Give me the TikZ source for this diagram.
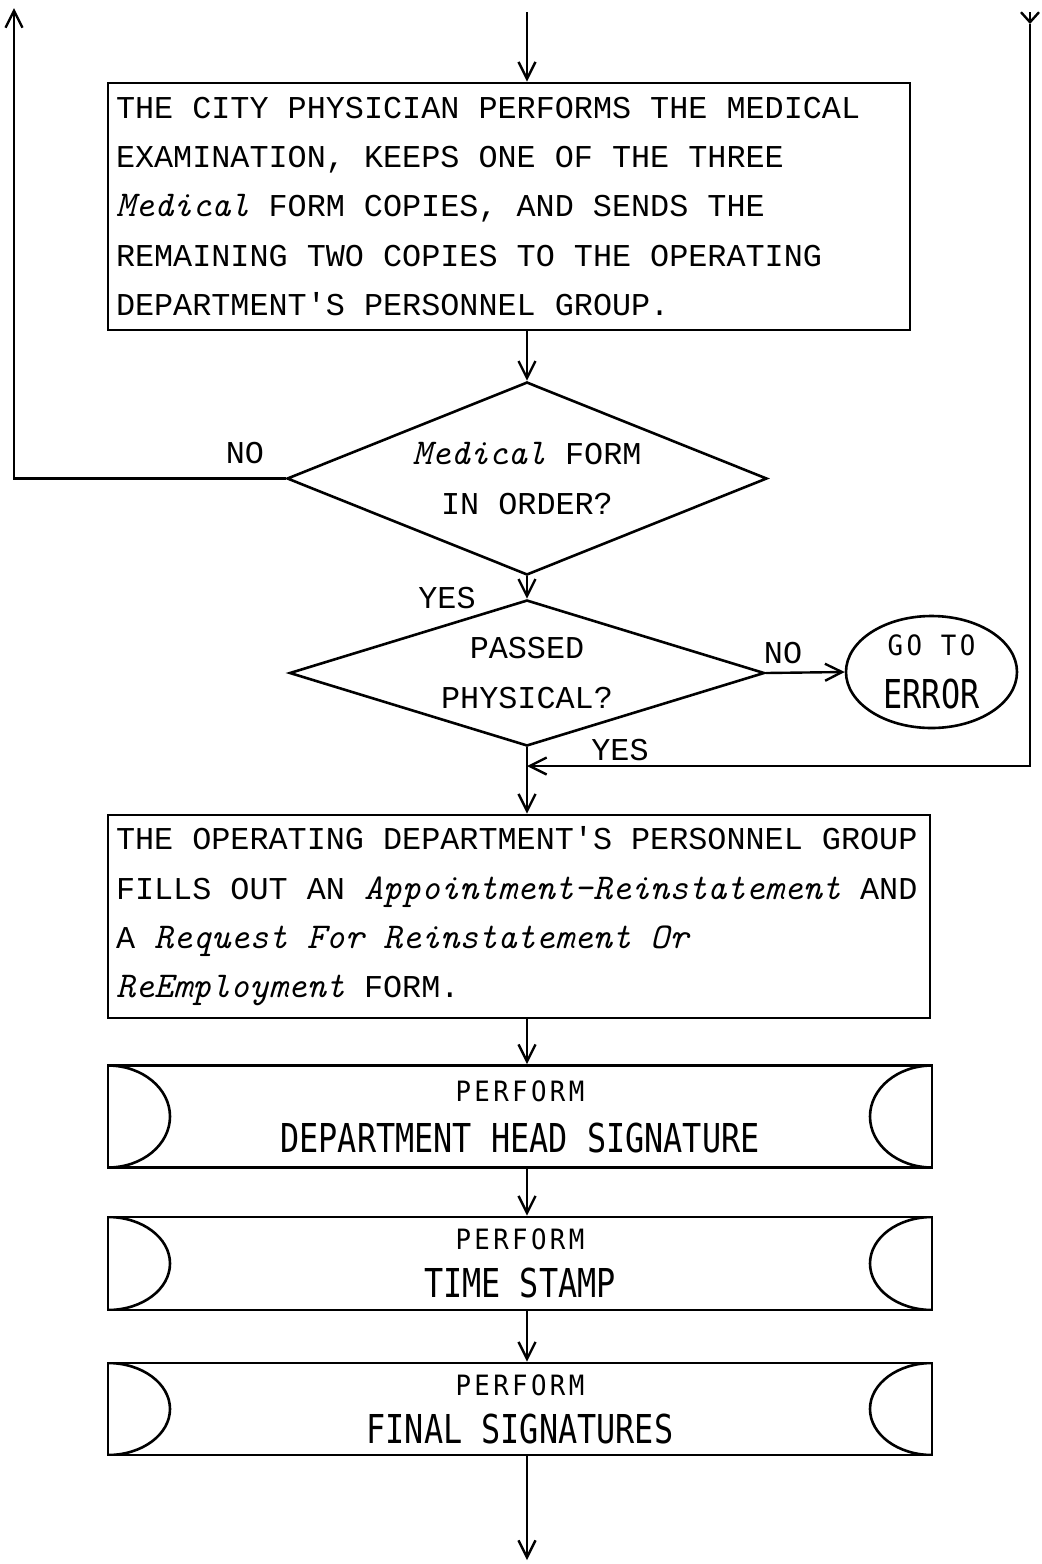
\documentclass[tikz,border=0pt]{standalone}
\usepackage{fontspec}
\usetikzlibrary{arrows.meta,shapes.geometric,calc}
% typewriter text and stencil lettering
\newfontfamily\typer{Liberation Mono}
\newfontfamily\letterbig[FakeStretch=0.8]{DejaVu Sans Mono}
\newfontfamily\lettersmall[FakeStretch=0.92,LetterSpace=12]{DejaVu Sans Mono}
% one typewriter cell: every character and every space is 9.54pt wide
\newcommand\typesize{\typer\fontsize{15.9}{24.65}\selectfont}
\newcommand\tsp{\hspace*{9.54pt}}
\newcommand\formname[1]{{\ttfamily\itshape\fontsize{18.17}{24.65}\selectfont #1}}
\newcommand\perf[1]{{\lettersmall\fontsize{14}{24}\selectfont #1}}
\newcommand\bigtitle[1]{{\letterbig\fontsize{19.9}{24}\selectfont #1}}

\tikzset{
  procbox/.style={draw, rectangle, line width=1.4pt, inner xsep=4pt, inner ysep=0pt,
    align=left, font=\typesize},
  decision/.style={draw, diamond, line width=1.3pt, inner sep=0pt, align=center,
    font=\typesize},
  terminal/.style={draw, ellipse, line width=1.3pt, inner sep=0pt, align=center,
    minimum width=85.5pt, minimum height=56pt, font=\fontsize{12}{26.5}\selectfont},
  predef/.style={draw, rectangle, line width=1.4pt, inner sep=0pt, align=center,
    minimum width=412pt,
    path picture={
      \draw[line width=1.3pt] let \p1=(path picture bounding box.north west),
        \p2=(path picture bounding box.south west) in
        (\p1) arc[start angle=90, end angle=-90, x radius=31pt, y radius={(\y1-\y2)/2}];
      \draw[line width=1.3pt] let \p1=(path picture bounding box.north east),
        \p2=(path picture bounding box.south east) in
        (\p1) arc[start angle=90, end angle=270, x radius=31pt, y radius={(\y1-\y2)/2}];
    }},
  lab/.style={inner sep=0pt, font=\typesize},
  flow/.style={line width=1.2pt, -{Straight Barb[length=8.5pt,width=8.5pt]}},
  offpage/.style={line width=1.2pt, -{Straight Barb[length=5pt,width=9pt]}},
}

\begin{document}
\begin{tikzpicture}[x=0.5pt,y=-0.5pt]
\useasboundingbox (0,0) rectangle (1041,1564);

% process boxes and decisions
\node[procbox, text width=393pt, minimum height=123.5pt] (b1) at (509,206.5)
  {THE\tsp CITY\tsp PHYSICIAN\tsp PERFORMS\tsp THE\tsp MEDICAL\\
   EXAMINATION,\tsp KEEPS\tsp ONE\tsp OF\tsp THE\tsp THREE\\
   \formname{Medical}\tsp FORM\tsp COPIES,\tsp AND\tsp SENDS\tsp THE\\
   REMAINING\tsp TWO\tsp COPIES\tsp TO\tsp THE\tsp OPERATING\\
   DEPARTMENT'S\tsp PERSONNEL\tsp GROUP.};

\node[decision, minimum width=240pt, minimum height=96.5pt, aspect=2.5] (d1) at (527,478.5)
  {\formname{Medical}\tsp FORM\\IN\tsp ORDER?};

\node[decision, minimum width=237.5pt, minimum height=73pt, aspect=3.25] (d2) at (527,673)
  {PASSED\\PHYSICAL?};

\node[terminal] (err) at (931.5,672)
  {{\lettersmall\fontsize{14}{26.5}\selectfont GO TO}\\{\letterbig\fontsize{19.9}{26.5}\selectfont ERROR}};

\node[procbox, text width=403pt, minimum height=101.5pt] (b2) at (519,916.5)
  {THE\tsp OPERATING\tsp DEPARTMENT'S\tsp PERSONNEL\tsp GROUP\\
   FILLS\tsp OUT\tsp AN\tsp \formname{Appointment-Reinstatement}\tsp AND\\
   A\tsp \formname{Request\tsp For\tsp Reinstatement\tsp Or}\\
   \formname{ReEmployment}\tsp FORM.};

\node[predef, minimum height=51pt, font=\fontsize{12}{25.5}\selectfont] (pA) at (520,1116.5)
  {\perf{PERFORM}\\\bigtitle{DEPARTMENT HEAD SIGNATURE}};
\node[predef, minimum height=46.5pt, font=\fontsize{12}{24}\selectfont] (pB) at (520,1263.5)
  {\perf{PERFORM}\\\bigtitle{TIME STAMP}};
\node[predef, minimum height=46pt, font=\fontsize{12}{24}\selectfont] (pC) at (520,1409)
  {\perf{PERFORM}\\\bigtitle{FINAL SIGNATURES}};

% branch labels
\node[lab] (no1) at (245,453) {NO};
\node[lab] (yes1) at (447,598) {YES};
\node[lab] (no2) at (783,653) {NO};
\node[lab] (yes2) at (620,750) {YES};

% connectors
\coordinate (entry) at (527,12);
\coordinate (retleft) at (14,8);
\coordinate (rettop) at (1030,12);
\coordinate (rettip) at (1030,24);
\coordinate (merge) at (527,766);
\coordinate (exit) at (527,1560);

\draw[flow] (entry) -- (entry |- b1.north);
\draw[flow] (d1.north |- b1.south) -- (d1.north);
\draw[flow] (d1.south) -- (d2.north);
\draw[flow] (d1.west) -| (retleft);
\draw[flow] (d2.east) -- (err.west);
\draw[offpage] (rettop) -- (rettip);
\draw[flow] (rettip) |- (merge);
\draw[flow] (d2.south) -- (d2.south |- b2.north);
\draw[flow] (d2.south |- b2.south) -- (d2.south |- pA.north);
\draw[flow] (d2.south |- pA.south) -- (d2.south |- pB.north);
\draw[flow] (d2.south |- pB.south) -- (d2.south |- pC.north);
\draw[flow] (d2.south |- pC.south) -- (exit);
\end{tikzpicture}
\end{document}
